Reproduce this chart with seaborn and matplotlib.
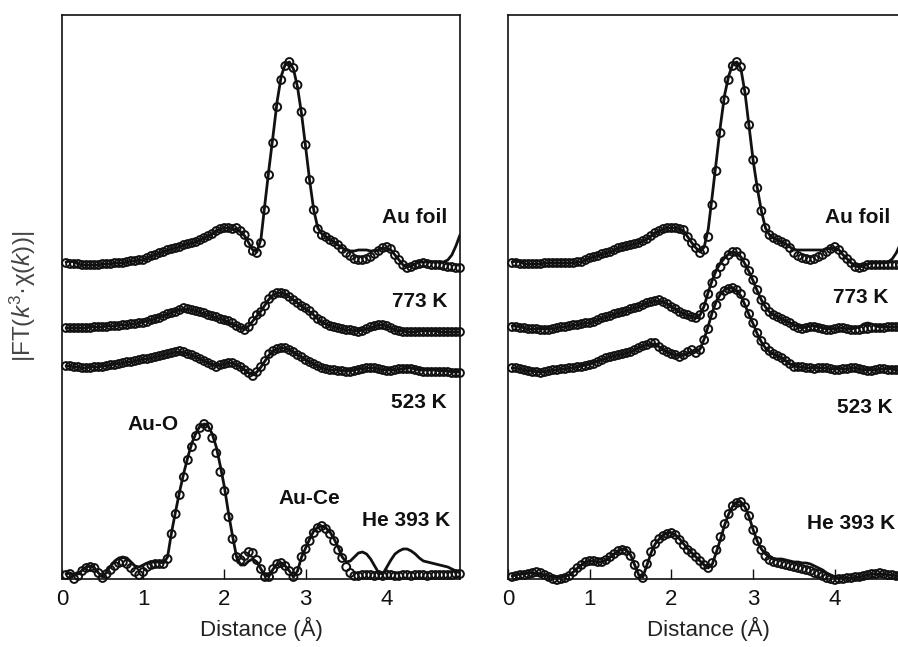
import numpy as np
import pandas as pd
import matplotlib
matplotlib.use("Agg")
import matplotlib.pyplot as plt
import seaborn as sns

# ---------------- data ----------------
# sampling grid in Angstrom: 0.05 ... 4.90
distance = np.round(np.arange(1, 99) * 0.05, 2)

samples = ["Au foil", "773 K", "523 K", "He 393 K"]

# Left panel: |FT| (arbitrary units), measured data (circles) and fit (line)
left_au_data = [0, -1, -1, -1, -2, -2, -2, -2, -2, -1,
                -1, -1, 0, 0, 0, 1, 2, 2, 3, 3,
                5, 7, 8, 10, 11, 13, 14, 15, 16, 18,
                19, 20, 21, 23, 25, 27, 29, 32, 34, 35,
                35, 34, 35, 32, 28, 20, 12, 10, 20, 53,
                88, 120, 156, 183, 197, 201, 195, 178, 151, 118,
                83, 53, 34, 28, 26, 23, 21, 18, 14, 10,
                7, 4, 3, 3, 4, 6, 9, 12, 15, 16,
                14, 8, 3, -2, -5, -4, -2, -1, 0, -1,
                -2, -2, -2, -3, -4, -4, -5, -5]
left_au_fit = [1, 2, 1, -1, -2, -2, -2, -2, -2, -1,
               -1, -1, 0, 0, 0, 1, 2, 2, 3, 3,
               5, 7, 8, 10, 11, 13, 14, 15, 16, 18,
               19, 20, 21, 23, 25, 27, 29, 32, 34, 35,
               35, 34, 34, 31, 27, 20, 13, 11, 24, 60,
               95, 128, 162, 187, 199, 201, 194, 176, 149, 116,
               82, 53, 35, 29, 26, 23, 21, 18, 15, 13,
               12, 12, 13, 13, 13, 12, 12, 13, 15, 15,
               13, 8, 3, -2, -4, -3, -1, 1, 1, 1,
               1, 1, 1, 1, 3, 8, 17, 28]
left_773_data = [0, 0, 0, 0, 0, 0, 0, 1, 1, 1,
                 1, 2, 2, 2, 3, 3, 4, 4, 5, 5,
                 6, 8, 9, 10, 12, 14, 15, 16, 18, 20,
                 19, 18, 17, 16, 15, 13, 12, 11, 9, 8,
                 7, 5, 2, 0, -2, 1, 7, 13, 16, 22,
                 29, 33, 35, 35, 34, 31, 28, 25, 22, 20,
                 17, 13, 9, 7, 4, 2, 1, 0, -1, -2,
                 -2, -3, -4, -3, -1, 1, 2, 3, 3, 2,
                 0, -2, -3, -4, -4, -4, -4, -4, -4, -4,
                 -4, -4, -4, -4, -4, -4, -4, -4]
left_773_fit = [0, 0, 0, 0, 0, 0, 1, 1, 1, 1,
                2, 2, 2, 3, 3, 3, 4, 4, 5, 6,
                7, 8, 9, 11, 12, 14, 15, 17, 18, 19,
                19, 18, 17, 16, 14, 13, 12, 10, 9, 8,
                6, 4, 2, 0, -1, 2, 7, 12, 17, 23,
                29, 33, 35, 35, 34, 31, 28, 25, 22, 19,
                16, 13, 9, 6, 4, 2, 1, 0, -1, -2,
                -2, -3, -3, -2, -1, 0, 2, 3, 3, 2,
                0, -2, -3, -3, -4, -4, -4, -3, -3, -3,
                -3, -3, -4, -4, -4, -4, -4, -4]
left_523_data = [1, 1, 0, 0, -1, -1, -1, 0, 0, 0,
                 1, 2, 2, 3, 4, 5, 5, 6, 7, 8,
                 8, 9, 10, 11, 12, 13, 14, 15, 16, 15,
                 13, 12, 10, 8, 6, 4, 2, 0, 2, 3,
                 4, 4, 2, 0, -3, -6, -9, -5, 0, 6,
                 13, 16, 18, 19, 19, 17, 15, 12, 10, 7,
                 5, 3, 1, -1, -2, -3, -3, -4, -4, -5,
                 -5, -4, -3, -2, -1, -1, -1, -2, -3, -4,
                 -4, -3, -2, -2, -2, -2, -3, -4, -5, -5,
                 -5, -5, -5, -5, -5, -6, -6, -6]
left_523_fit = [1, 1, 0, 0, -1, -1, 0, 0, 0, 1,
                1, 2, 3, 3, 4, 5, 5, 6, 7, 8,
                8, 9, 10, 11, 12, 13, 14, 15, 15, 15,
                13, 12, 10, 8, 6, 4, 2, 1, 2, 3,
                4, 4, 2, 0, -3, -6, -8, -5, 0, 6,
                12, 16, 18, 19, 19, 17, 15, 12, 10, 7,
                5, 3, 1, -1, -2, -3, -3, -3, -4, -4,
                -4, -3, -2, -2, -1, -1, -1, -2, -3, -3,
                -3, -3, -2, -2, -1, -1, -2, -3, -3, -3,
                -3, -3, -4, -4, -4, -5, -5, -5]
left_he_data = [4, 5, 0, 3, 8, 11, 12, 11, 6, 1,
                5, 9, 13, 16, 17, 15, 11, 7, 4, 7,
                12, 14, 15, 15, 15, 20, 45, 65, 84, 102,
                119, 132, 143, 151, 155, 152, 141, 126, 107, 88,
                62, 40, 22, 19, 23, 27, 26, 19, 10, 2,
                2, 10, 15, 16, 13, 8, 2, 8, 22, 30,
                38, 46, 51, 53, 50, 45, 38, 29, 21, 12,
                6, 3, 3, 4, 4, 4, 3, 4, 3, 4,
                4, 3, 3, 4, 4, 3, 4, 4, 4, 3,
                4, 4, 4, 4, 4, 4, 5, 5]
left_he_fit = [5, 6, 4, 5, 9, 12, 13, 11, 6, 2,
               7, 13, 18, 21, 22, 21, 17, 13, 12, 14,
               16, 17, 17, 17, 16, 22, 47, 68, 88, 106,
               122, 136, 146, 153, 155, 153, 145, 132, 113, 92,
               66, 43, 22, 14, 14, 18, 20, 17, 10, 3,
               3, 10, 15, 16, 13, 8, 2, 8, 22, 31,
               40, 48, 52, 53, 51, 47, 40, 32, 22, 17,
               18, 22, 26, 27, 25, 20, 13, 6, 5, 12,
               19, 25, 28, 30, 30, 28, 25, 21, 18, 17,
               16, 15, 14, 13, 12, 10, 8, 6]

# Right panel
right_au_data = [0, 0, -1, -1, -1, -1, -1, -1, 0, 0,
                 0, 0, 0, 0, 0, 0, 1, 1, 3, 5,
                 6, 7, 9, 10, 11, 13, 15, 16, 17, 18,
                 19, 20, 22, 24, 27, 30, 32, 34, 35, 35,
                 35, 34, 33, 26, 20, 15, 10, 13, 26, 58,
                 92, 130, 163, 183, 197, 201, 196, 172, 138, 103,
                 75, 52, 35, 28, 25, 23, 21, 19, 15, 10,
                 7, 5, 4, 3, 4, 6, 8, 11, 14, 16,
                 13, 8, 4, 0, -4, -5, -4, -2, -2, -2,
                 -2, -2, -2, -2, -2, -2, -2, -2]
right_au_fit = [1, 2, 1, -1, -1, -1, -1, -1, 0, 0,
                0, 0, 0, 0, 0, 0, 1, 1, 3, 5,
                6, 7, 9, 10, 11, 13, 15, 16, 17, 18,
                19, 20, 22, 24, 27, 30, 32, 34, 35, 35,
                35, 34, 32, 26, 20, 15, 11, 16, 34, 68,
                103, 138, 168, 187, 199, 201, 194, 170, 136, 102,
                75, 52, 35, 28, 25, 23, 21, 19, 16, 13,
                13, 13, 13, 13, 13, 13, 13, 14, 15, 15,
                13, 8, 4, 0, -3, -4, -3, -1, 0, 0,
                0, 0, 1, 4, 10, 19, 26, 33]
right_773_data = [0, 0, -1, -1, -2, -2, -2, -3, -3, -3,
                  -2, -1, 0, 0, 1, 2, 2, 3, 4, 4,
                  5, 7, 9, 10, 11, 13, 14, 15, 16, 18,
                  19, 20, 22, 24, 25, 26, 27, 25, 23, 20,
                  18, 15, 13, 12, 10, 9, 12, 20, 33, 44,
                  53, 60, 66, 72, 75, 75, 71, 64, 56, 47,
                  37, 27, 20, 15, 12, 10, 8, 6, 4, 1,
                  -1, -2, -1, 0, 0, -1, -2, -3, -3, -2,
                  -1, -1, -2, -3, -3, -3, -2, -2, -1, -1,
                  -1, -1, 0, 0, 0, 0, 0, 0]
right_773_fit = [1, 1, 0, -1, -2, -2, -2, -2, -2, -2,
                 -2, -1, 0, 0, 1, 2, 2, 3, 4, 4,
                 5, 7, 9, 10, 11, 13, 14, 15, 16, 18,
                 19, 20, 22, 24, 25, 26, 26, 25, 23, 20,
                 18, 15, 13, 12, 10, 9, 12, 21, 35, 47,
                 57, 64, 69, 73, 75, 74, 70, 63, 55, 46,
                 36, 27, 20, 15, 12, 10, 8, 6, 4, 2,
                 0, -1, 0, 1, 1, 0, -1, -2, -2, -2,
                 -1, -1, -2, -2, -1, 0, 3, 4, 3, 1,
                 0, 0, 0, 0, 0, 0, 0, 0]
right_523_data = [1, 1, 0, -1, -2, -3, -3, -4, -3, -2,
                  -1, -1, 0, 0, 1, 1, 2, 2, 3, 4,
                  5, 7, 9, 11, 12, 13, 14, 15, 16, 17,
                  19, 21, 23, 24, 26, 26, 22, 19, 17, 15,
                  14, 12, 14, 17, 19, 16, 19, 29, 40, 54,
                  64, 73, 78, 80, 81, 79, 75, 66, 55, 46,
                  36, 28, 22, 18, 15, 13, 11, 8, 5, 2,
                  2, 2, 1, 1, 0, 1, 1, 1, 0, -1,
                  -1, 0, 0, 1, 1, 0, -1, -2, -2, -1,
                  0, 0, -1, -1, -1, -1, -1, -1]
right_523_fit = [1, 1, 0, -1, -2, -2, -3, -3, -3, -2,
                 -1, -1, 0, 0, 1, 1, 2, 3, 4, 5,
                 6, 8, 9, 11, 12, 13, 14, 15, 16, 17,
                 19, 21, 23, 24, 25, 25, 22, 19, 17, 15,
                 14, 13, 14, 16, 18, 17, 20, 30, 43, 57,
                 68, 75, 79, 81, 81, 78, 73, 64, 54, 45,
                 35, 27, 21, 17, 15, 13, 11, 8, 5, 3,
                 2, 2, 1, 1, 1, 1, 1, 1, 0, 0,
                 0, 0, 0, 1, 1, 0, -1, -1, -1, -1,
                 0, 0, 0, 0, -1, -1, -1, -1]
right_he_data = [2, 3, 4, 4, 5, 6, 7, 6, 4, 2,
                 0, -1, 0, 1, 3, 7, 11, 14, 17, 18,
                 18, 17, 17, 19, 22, 25, 28, 29, 28, 23,
                 14, 5, 1, 15, 27, 35, 40, 43, 45, 46,
                 44, 39, 34, 29, 26, 22, 18, 14, 11, 16,
                 29, 42, 55, 65, 73, 76, 77, 72, 63, 49,
                 38, 29, 23, 19, 17, 16, 15, 14, 13, 12,
                 11, 10, 9, 8, 6, 5, 3, 1, 0, -1,
                 0, 0, 1, 1, 2, 2, 3, 4, 5, 5,
                 6, 5, 4, 4, 3, 3, 3, 3]
right_he_fit = [3, 4, 5, 5, 6, 6, 6, 5, 4, 3,
                2, 2, 2, 3, 4, 7, 11, 14, 17, 18,
                18, 17, 17, 19, 22, 25, 28, 30, 29, 24,
                14, 4, 2, 14, 26, 35, 40, 44, 46, 46,
                44, 40, 35, 30, 26, 22, 18, 14, 11, 15,
                27, 40, 54, 65, 73, 77, 77, 72, 62, 49,
                38, 30, 25, 22, 20, 20, 20, 19, 18, 17,
                17, 16, 16, 15, 13, 11, 9, 6, 4, 2,
                1, 1, 1, 1, 2, 2, 3, 4, 5, 5,
                5, 5, 4, 4, 3, 3, 3, 3]

# vertical stacking offsets of the curves
left_offsets = [316, 251, 212, 0]
right_offsets = [316, 252, 210, 0]

left_data = [left_au_data, left_773_data, left_523_data, left_he_data]
left_fit = [left_au_fit, left_773_fit, left_523_fit, left_he_fit]
right_data = [right_au_data, right_773_data, right_523_data, right_he_data]
right_fit = [right_au_fit, right_773_fit, right_523_fit, right_he_fit]

# ---------------- build tidy table ----------------
rows = []
for panel, dsets, fsets, offs in [("left", left_data, left_fit, left_offsets),
                                  ("right", right_data, right_fit, right_offsets)]:
    for name, d, f, o in zip(samples, dsets, fsets, offs):
        for kind, vals in (("data", d), ("fit", f)):
            for x, v in zip(distance, vals):
                rows.append((panel, name, kind, x, v, v + o))
df = pd.DataFrame(rows, columns=["panel", "sample", "kind", "distance", "ft", "y"])

# ---------------- style ----------------
sns.set_style("white")
plt.rcParams["font.family"] = ["Liberation Sans", "DejaVu Sans"]
plt.rcParams["mathtext.fontset"] = "custom"
plt.rcParams["mathtext.rm"] = "Liberation Sans"
plt.rcParams["mathtext.it"] = "Liberation Sans:italic"

fig = plt.figure(figsize=(8.98, 6.47), dpi=100)
ax1 = fig.add_axes([0.069, 0.1051, 0.4432, 0.8722])
ax2 = fig.add_axes([0.5657, 0.1051, 0.446, 0.8722])

for ax, panel in ((ax1, "left"), (ax2, "right")):
    sub = df[df["panel"] == panel]
    fits = sub[sub["kind"] == "fit"]
    pts = sub[sub["kind"] == "data"]
    sns.lineplot(data=fits, x="distance", y="y", units="sample", estimator=None,
                 sort=False, color="#111111", linewidth=2.0, ax=ax,
                 legend=False, zorder=2)
    sns.scatterplot(data=pts, x="distance", y="y", marker="o", s=32,
                    facecolor="none", edgecolor="#111111", linewidth=1.4,
                    ax=ax, legend=False, zorder=3, clip_on=False)
    ax.set_xlim(0, 4.9)
    ax.set_ylim(0, 564.3)
    ax.set_yticks([])
    ax.set_xticks([0, 1, 2, 3, 4])
    ax.set_xticklabels(["0", "1", "2", "3", "4"])
    ax.tick_params(axis="x", bottom=True, direction="in", length=7, width=1.0,
                   pad=7, labelsize=16, labelcolor="#111111", color="#111111")
    for sp in ax.spines.values():
        sp.set_visible(True)
        sp.set_color("#111111")
        sp.set_linewidth(1.2)
    ax.set_xlabel("Distance (Å)", fontsize=16, color="#222222", labelpad=5)
    ax.set_ylabel("")

ax1.set_ylabel(r"|FT($k^3$·χ($k$))|", fontsize=17.5, color="#444444")
ax1.yaxis.set_label_coords(-0.06, 0.5)

lab = dict(fontsize=15, fontweight="bold", color="#111111", va="center")
ax1.text(4.74, 361, "Au foil", ha="right", **lab)
ax1.text(4.74, 277, "773 K", ha="right", **lab)
ax1.text(4.74, 176, "523 K", ha="right", **lab)
ax1.text(4.78, 58, "He 393 K", ha="right", **lab)
ax1.text(1.12, 154, "Au-O", ha="center", **lab)
ax1.text(3.05, 80, "Au-Ce", ha="center", **lab)

ax2.text(3.88, 361, "Au foil", ha="left", **lab)
ax2.text(3.98, 281, "773 K", ha="left", **lab)
ax2.text(4.02, 171, "523 K", ha="left", **lab)
ax2.text(3.66, 55, "He 393 K", ha="left", **lab)

fig.savefig("out.png", dpi=100)
